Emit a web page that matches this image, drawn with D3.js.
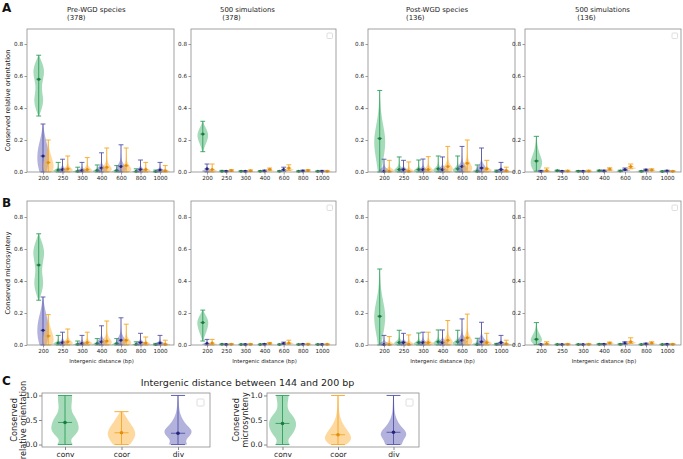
<!DOCTYPE html>
<html><head><meta charset="utf-8">
<script src="https://cdn.jsdelivr.net/npm/d3@7"></script>
<style>body{margin:0;background:#fff}svg{display:block}text{font-family:"DejaVu Sans",sans-serif}</style>
</head><body><svg id="c" width="683" height="459"></svg>
<script>
// ---------- DATA ----------
const categories = ["200","250","300","400","600","800","1000"];
const seriesNames = ["conv","div","coor"];
const panelTitles = [["Pre-WGD species","(378)"],["500 simulations"," (378)"],["Post-WGD species","(136)"],["500 simulations"," (136)"]];
const yTicksAB = [0,0.2,0.4,0.6,0.8];
// each entry: [min, mean, max]
// Row A: conserved relative orientation
const A1_conv = [[0.35,0.58,0.73],[0,0.012,0.06],[0,0.005,0.03],[0,0.01,0.044],[0,0.01,0.04],[0,0.004,0.02],[0,0.003,0.012]];
const A1_div  = [[0,0.10,0.30],[0,0.015,0.08],[0,0.01,0.06],[0,0.025,0.12],[0,0.035,0.17],[0,0.015,0.075],[0,0.012,0.06]];
const A1_coor = [[0,0.06,0.20],[0,0.02,0.10],[0,0.015,0.09],[0,0.03,0.15],[0,0.04,0.15],[0,0.015,0.06],[0,0.008,0.04]];
const A2_conv = [[0.127,0.237,0.317],[0.002,0.005,0.01],[0.002,0.005,0.008],[0.002,0.005,0.008],[0.002,0.005,0.008],[0.001,0.004,0.007],[0.001,0.004,0.007]];
const A2_div  = [[0,0.02,0.05],[0.002,0.005,0.008],[0.001,0.004,0.008],[0.003,0.007,0.012],[0.005,0.015,0.03],[0.003,0.007,0.012],[0.002,0.005,0.01]];
const A2_coor = [[0,0.015,0.05],[0.004,0.01,0.015],[0.003,0.008,0.013],[0.008,0.017,0.025],[0.01,0.025,0.045],[0.004,0.01,0.015],[0.002,0.005,0.01]];
const A3_conv = [[0,0.21,0.51],[0,0.015,0.094],[0,0.015,0.075],[0,0.02,0.10],[0,0.02,0.10],[0,0.005,0.044],[0,0.005,0.012]];
const A3_div  = [[0,0.005,0.08],[0,0.015,0.073],[0,0.015,0.081],[0,0.015,0.094],[0,0.035,0.16],[0,0.025,0.15],[0,0.015,0.06]];
const A3_coor = [[0,0.005,0.073],[0,0.005,0.063],[0,0.015,0.096],[0,0.035,0.16],[0,0.055,0.20],[0,0.02,0.073],[0,0.01,0.03]];
const A4_conv = [[0.005,0.069,0.223],[0.004,0.008,0.012],[0.002,0.005,0.009],[0.004,0.008,0.012],[0.003,0.006,0.011],[0.001,0.004,0.008],[0.001,0.003,0.007]];
const A4_div  = [[0.001,0.005,0.01],[0.001,0.004,0.009],[0.001,0.004,0.008],[0.003,0.007,0.012],[0.008,0.016,0.025],[0.006,0.012,0.018],[0.003,0.006,0.011]];
const A4_coor = [[0.002,0.01,0.025],[0.002,0.006,0.011],[0.002,0.006,0.011],[0.01,0.018,0.026],[0.02,0.035,0.05],[0.008,0.013,0.02],[0.002,0.005,0.009]];
// Row B: conserved microsynteny
const B1_conv = [[0.28,0.50,0.695],[0,0.012,0.06],[0,0.005,0.025],[0,0.01,0.04],[0,0.01,0.04],[0,0.004,0.02],[0,0.003,0.01]];
const B1_div  = [[0,0.092,0.30],[0,0.015,0.08],[0,0.01,0.06],[0,0.02,0.12],[0,0.03,0.17],[0,0.015,0.073],[0,0.012,0.06]];
const B1_coor = [[0,0.057,0.19],[0,0.02,0.10],[0,0.015,0.08],[0,0.025,0.15],[0,0.03,0.13],[0,0.012,0.05],[0,0.005,0.03]];
const B2_conv = [[0.025,0.14,0.218],[0.002,0.004,0.007],[0.001,0.003,0.006],[0.001,0.003,0.006],[0.001,0.003,0.006],[0.001,0.003,0.006],[0.001,0.003,0.006]];
const B2_div  = [[0,0.01,0.035],[0.001,0.003,0.007],[0.001,0.003,0.007],[0.002,0.005,0.009],[0.004,0.01,0.018],[0.002,0.004,0.008],[0.001,0.003,0.007]];
const B2_coor = [[0,0.012,0.035],[0.002,0.005,0.009],[0.002,0.004,0.009],[0.005,0.01,0.016],[0.006,0.012,0.03],[0.002,0.005,0.01],[0.001,0.004,0.008]];
const B3_conv = [[0,0.18,0.475],[0,0.015,0.092],[0,0.015,0.075],[0,0.02,0.094],[0,0.02,0.092],[0,0.003,0.042],[0,0.005,0.01]];
const B3_div  = [[0,0.003,0.06],[0,0.015,0.073],[0,0.015,0.08],[0,0.015,0.094],[0,0.03,0.163],[0,0.02,0.142],[0,0.015,0.06]];
const B3_coor = [[0,0.003,0.053],[0,0.005,0.063],[0,0.015,0.08],[0,0.03,0.153],[0,0.045,0.193],[0,0.015,0.073],[0,0.008,0.03]];
const B4_conv = [[0.003,0.036,0.14],[0.001,0.003,0.006],[0.001,0.003,0.006],[0.001,0.004,0.008],[0.001,0.004,0.008],[0.001,0.003,0.006],[0.001,0.003,0.006]];
const B4_div  = [[0.001,0.003,0.006],[0.001,0.003,0.006],[0.001,0.003,0.006],[0.002,0.005,0.009],[0.005,0.012,0.02],[0.003,0.007,0.012],[0.001,0.004,0.008]];
const B4_coor = [[0.002,0.008,0.02],[0.002,0.005,0.009],[0.002,0.005,0.009],[0.006,0.012,0.018],[0.01,0.02,0.045],[0.006,0.012,0.02],[0.002,0.005,0.009]];
// violin width profiles (relative widths, evenly spaced from min to max)
const shapeSmall   = [0.6,1,0.55,0.22,0.08,0.035,0.018,0.01,0.006];
const A1_conv200   = [0.05,0.55,0.85,0.6,0.5,0.8,1.0,0.6,0.05];
const A1_div200    = [0.6,0.95,1.0,0.85,0.5,0.2,0.04];
const A1_coor200   = [0.7,1.0,0.8,0.5,0.25,0.08,0.02];
const A2_conv200   = [0.05,0.35,0.7,1.0,0.85,0.35,0.05];
const A3_conv200   = [0.3,0.55,0.85,1.0,0.8,0.45,0.2,0.08,0.02];
const A4_conv200   = [0.4,0.95,0.9,0.5,0.25,0.1,0.02];
const B1_conv200   = [0.05,0.55,0.85,0.6,0.55,0.85,1.0,0.55,0.05];
const B2_conv200   = [0.05,0.35,0.7,0.95,1.0,0.5,0.05];
const B3_conv200   = [0.3,0.55,0.85,1.0,0.8,0.45,0.2,0.08,0.02];
const B4_conv200   = [0.4,1.0,0.8,0.45,0.2,0.08,0.02];
// Row C: intergenic distance between 144 and 200 bp
const C_categories = ["conv","coor","div"];
const C1_stats = [[0,0.45,1.0],[0,0.24,0.67],[0,0.23,1.0]];
const C2_stats = [[0,0.43,1.0],[0,0.20,1.0],[0,0.25,1.0]];
const C1_shapes = [[0.55,0.35,0.75,1.0,0.95,0.85,0.6,0.45,0.45,0.5,0.5],[0.6,0.85,1.0,0.95,0.75,0.5,0.3,0.1],[0.65,0.5,0.95,1.0,0.6,0.35,0.18,0.1,0.06,0.04,0.03]];
const C2_shapes = [[0.5,0.35,0.7,0.9,1.0,0.95,0.7,0.4,0.35,0.4,0.45],[0.6,1.0,0.9,0.65,0.4,0.22,0.12,0.07,0.05,0.04,0.03],[0.6,0.7,1.0,0.8,0.45,0.25,0.12,0.07,0.05,0.04,0.03]];
const yTicksC = [0,0.5,1.0];

// ---------- STYLE ----------
const colors = {
  conv:{fill:"#4cb874", line:"#2e9e5a", dot:"#1d7a3e"},
  div: {fill:"#6666bb", line:"#5252a8", dot:"#25257a"},
  coor:{fill:"#fdb440", line:"#f5a623", dot:"#e08e10"}
};
const svg = d3.select("#c");
const FONT = "DejaVu Sans";

function violin(g, xs, ys, center, halfW, stat, shape, name, capHalf, dotR){
  const [mn, mean, mx] = stat;
  const n = shape.length;
  const pts = shape.map((w,i)=>({v: mn + (mx-mn)*i/(n-1), w}));
  const area = d3.area().curve(d3.curveBasis)
    .y(d=>ys(d.v)).x0(d=>xs(center - d.w*halfW)).x1(d=>xs(center + d.w*halfW));
  const c = colors[name];
  g.append("path").attr("d", area(pts)).attr("fill", c.fill).attr("fill-opacity", 0.5).attr("stroke","none");
  const line = (x1,y1,x2,y2)=>g.append("line").attr("x1",x1).attr("y1",y1).attr("x2",x2).attr("y2",y2)
      .attr("stroke",c.line).attr("stroke-width",0.9);
  line(xs(center), ys(mn), xs(center), ys(mx));
  line(xs(center-capHalf), ys(mx), xs(center+capHalf), ys(mx));
  line(xs(center-capHalf), ys(mn), xs(center+capHalf), ys(mn));
  line(xs(center-capHalf), ys(mean), xs(center+capHalf), ys(mean));
  g.append("circle").attr("cx", xs(center)).attr("cy", ys(mean)).attr("r", dotR).attr("fill", c.dot);
}

function legendBox(x, y, s){
  svg.append("rect").attr("x",x).attr("y",y).attr("width",s).attr("height",s).attr("rx",1)
    .attr("fill","#fff").attr("stroke","#d6d6d6").attr("stroke-width",0.8);
}

// ---------- ROWS A & B ----------
const colX = [[27,174],[191,336],[368,515],[525,681]];
const rows = [
  {top:29, bottom:172, ymax:0.894, data:[[A1_conv,A1_div,A1_coor],[A2_conv,A2_div,A2_coor],[A3_conv,A3_div,A3_coor],[A4_conv,A4_div,A4_coor]],
   big:[[A1_conv200,A1_div200,A1_coor200],[A2_conv200,null,null],[A3_conv200,null,null],[A4_conv200,null,null]],
   ylabel:"Conserved relative orientation", xlabel:false},
  {top:201, bottom:345, ymax:0.9, data:[[B1_conv,B1_div,B1_coor],[B2_conv,B2_div,B2_coor],[B3_conv,B3_div,B3_coor],[B4_conv,B4_div,B4_coor]],
   big:[[B1_conv200,A1_div200,A1_coor200],[B2_conv200,null,null],[B3_conv200,null,null],[B4_conv200,null,null]],
   ylabel:"Conserved microsynteny", xlabel:true}
];
const offsets = {conv:-0.22, div:0, coor:0.27};

rows.forEach((row, ri)=>{
  const ys = d3.scaleLinear().domain([0,row.ymax]).range([row.bottom,row.top]);
  colX.forEach(([L,R], pi)=>{
    const xs = d3.scaleLinear().domain([1,7]).range([L+16, R-14]);
    const g = svg.append("g");
    const clip = "clip"+ri+pi;
    svg.append("clipPath").attr("id",clip).append("rect").attr("x",L).attr("y",row.top).attr("width",R-L).attr("height",row.bottom-row.top+1);
    const gv = g.append("g").attr("clip-path","url(#"+clip+")");
    categories.forEach((cat, ci)=>{
      seriesNames.forEach((s, si)=>{
        const stat = row.data[pi][si][ci];
        const shape = (ci===0 && row.big[pi][si]) ? row.big[pi][si] : shapeSmall;
        violin(gv, xs, ys, ci+1+offsets[s], 0.3, stat, shape, s, 0.125, 1.5);
      });
    });
    // axes
    const xa = d3.axisBottom(xs).tickValues(d3.range(1,8)).tickFormat((d,i)=>categories[i]).tickSize(2.5).tickPadding(1.5);
    const ya = d3.axisLeft(ys).tickValues(yTicksAB).tickFormat(d3.format(".1f")).tickSize(2.5).tickPadding(1.5);
    const gx = g.append("g").attr("transform",`translate(0,${row.bottom})`).call(xa);
    const gy = g.append("g").attr("transform",`translate(${L},0)`).call(ya);
    [gx,gy].forEach(a=>{
      a.select(".domain").remove();
      a.selectAll("line").attr("stroke","#555").attr("stroke-width",0.6);
      a.selectAll("text").attr("font-family",FONT).attr("font-size",5.6).attr("fill","#222");
    });
    g.append("rect").attr("x",L).attr("y",row.top).attr("width",R-L).attr("height",row.bottom-row.top)
      .attr("fill","none").attr("stroke","#8a8a8a").attr("stroke-width",0.8);
    if (pi===1 || pi===3) legendBox(R-9, row.top+4, 5.5);
    if (row.xlabel) {
      svg.append("text").attr("x",(L+R)/2+1).attr("y",row.bottom+17.5).attr("text-anchor","middle")
        .attr("font-size",5.4).attr("fill","#222").text("Intergenic distance (bp)");
    }
  });
  svg.append("text").attr("transform",`translate(9.5,${(row.top+row.bottom)/2}) rotate(-90)`).attr("text-anchor","middle")
    .attr("font-size",6.7).attr("fill","#222").text(row.ylabel);
});

// panel titles
const titleX = [67,220,406,575];
panelTitles.forEach((t,i)=>{
  const tx = svg.append("text").attr("font-size",6.9).attr("fill","#222").style("white-space","pre");
  tx.append("tspan").attr("x",titleX[i]).attr("y",11.5).text(t[0]);
  tx.append("tspan").attr("x",titleX[i]).attr("y",20).text(t[1]);
});

// ---------- ROW C ----------
svg.append("text").attr("x",247.5).attr("y",386).attr("text-anchor","middle").attr("font-size",9.5).attr("fill","#222")
  .text("Intergenic distance between 144 and 200 bp");
const cPanels = [
  {L:42, R:210, p1:65, p3:178, stats:C1_stats, shapes:C1_shapes, ylab:["Conserved","relative orientation"], ylx:17},
  {L:267, R:419, p1:282.5, p3:393.5, stats:C2_stats, shapes:C2_shapes, ylab:["Conserved","microsynteny"], ylx:239}
];
const cTop = 393, cBot = 447;
const cNames = ["conv","coor","div"];
cPanels.forEach((p, pi)=>{
  const xs = d3.scaleLinear().domain([1,3]).range([p.p1,p.p3]);
  const ys = d3.scaleLinear().domain([-0.05,1.05]).range([cBot,cTop]);
  const g = svg.append("g");
  cNames.forEach((s,i)=>{
    violin(g, xs, ys, i+1, 0.25, p.stats[i], p.shapes[i], s, 0.125, 1.8);
  });
  const xa = d3.axisBottom(xs).tickValues([1,2,3]).tickFormat((d,i)=>C_categories[i]).tickSize(3).tickPadding(1.5);
  const ya = d3.axisLeft(ys).tickValues(yTicksC).tickFormat(d3.format(".1f")).tickSize(3).tickPadding(1.5);
  const gx = g.append("g").attr("transform",`translate(0,${cBot})`).call(xa);
  const gy = g.append("g").attr("transform",`translate(${p.L},0)`).call(ya);
  [gx,gy].forEach(a=>{
    a.select(".domain").remove();
    a.selectAll("line").attr("stroke","#555").attr("stroke-width",0.7);
    a.selectAll("text").attr("font-family",FONT).attr("font-size",7.5).attr("fill","#222");
  });
  g.append("rect").attr("x",p.L).attr("y",cTop).attr("width",p.R-p.L).attr("height",cBot-cTop)
    .attr("fill","none").attr("stroke","#8a8a8a").attr("stroke-width",0.8);
  legendBox(p.R-13, cTop+6, 7);
  const t = svg.append("text").attr("transform",`translate(${p.ylx},${(cTop+cBot)/2}) rotate(-90)`).attr("text-anchor","middle")
    .attr("font-size",8.2).attr("fill","#222");
  t.append("tspan").attr("x",0).attr("dy",0).text(p.ylab[0]);
  t.append("tspan").attr("x",0).attr("dy",8.5).text(p.ylab[1]);
});

// panel letters
[["A",2,12],["B",2,207],["C",2,385]].forEach(([l,x,y])=>{
  svg.append("text").attr("x",x).attr("y",y).attr("font-size",12).attr("font-weight","bold").attr("fill","#111").text(l);
});
</script></body></html>
